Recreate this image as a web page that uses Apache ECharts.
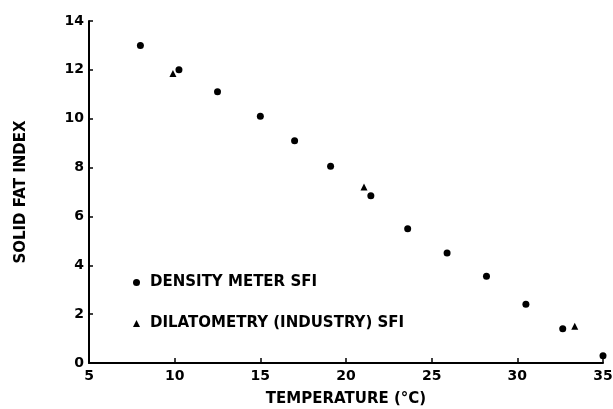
<!DOCTYPE html>
<html>
<head>
<meta charset="utf-8">
<script src="https://cdn.jsdelivr.net/npm/echarts@6/dist/echarts.min.js"></script>
<style>
  html, body { margin: 0; padding: 0; background: #fff; }
  #chart { width: 613px; height: 409px; }
</style>
</head>
<body>
<div id="chart"></div>
<script>
// density meter SFI readings [temperature, SFI]
const densityTemp = [8.0, 10.25, 12.5, 15.0, 17.0, 19.1, 21.45, 23.6, 25.9, 28.2, 30.5, 32.65, 35.0];
const densitySfi = [13.0, 12.0, 11.1, 10.1, 9.1, 8.05, 6.85, 5.5, 4.5, 3.55, 2.4, 1.4, 0.3];

// dilatometry (industry) SFI readings
const dilatTemp = [9.9, 21.05, 33.35];
const dilatSfi = [11.85, 7.2, 1.5];

const xTicks = [5, 10, 15, 20, 25, 30, 35];
const yTicks = [0, 2, 4, 6, 8, 10, 12, 14];

const font = '"DejaVu Sans", "Liberation Sans", sans-serif';
const chart = echarts.init(document.getElementById('chart'));

const tickStyle = { fontFamily: font, fontWeight: 'bold', fontSize: 14, color: '#000' };
const nameStyle = { fontFamily: font, fontWeight: 'bold', fontSize: 15, color: '#000' };

const option = {
  animation: false,
  backgroundColor: '#fff',
  textStyle: { fontFamily: font, color: '#000' },
  grid: { left: 89, right: 10, top: 21, bottom: 46, outerBoundsMode: 'none' },
  legend: {
    orient: 'vertical',
    left: 128,
    top: 270,
    itemWidth: 7,
    itemHeight: 7,
    itemGap: 26,
    textStyle: { fontFamily: font, fontWeight: 'bold', fontSize: 15, color: '#000', padding: [0, 0, 0, 5] },
    data: [
      { name: 'DENSITY METER SFI', icon: 'circle' },
      { name: 'DILATOMETRY (INDUSTRY) SFI', icon: 'triangle' }
    ]
  },
  xAxis: {
    type: 'value',
    min: xTicks[0],
    max: xTicks[xTicks.length - 1],
    interval: 5,
    name: 'TEMPERATURE (°C)',
    nameLocation: 'middle',
    nameGap: 29,
    nameTextStyle: nameStyle,
    axisLine: { lineStyle: { color: '#000', width: 2 } },
    axisTick: { show: true, inside: true, length: 5, lineStyle: { color: '#000', width: 1.5 } },
    axisLabel: Object.assign({ margin: 6 }, tickStyle),
    splitLine: { show: false }
  },
  yAxis: {
    type: 'value',
    min: yTicks[0],
    max: yTicks[yTicks.length - 1],
    interval: 2,
    name: 'SOLID FAT INDEX',
    nameLocation: 'middle',
    nameGap: 60,
    nameTextStyle: nameStyle,
    axisLine: { lineStyle: { color: '#000', width: 2 } },
    axisTick: { show: true, inside: true, length: 4, lineStyle: { color: '#000', width: 1.5 } },
    axisLabel: Object.assign({ margin: 5 }, tickStyle),
    splitLine: { show: false }
  },
  series: [
    {
      name: 'DENSITY METER SFI',
      type: 'scatter',
      symbol: 'circle',
      symbolSize: 7,
      itemStyle: { color: '#000', opacity: 1 },
      data: densityTemp.map((t, i) => [t, densitySfi[i]])
    },
    {
      name: 'DILATOMETRY (INDUSTRY) SFI',
      type: 'scatter',
      symbol: 'triangle',
      symbolSize: 7,
      itemStyle: { color: '#000', opacity: 1 },
      data: dilatTemp.map((t, i) => [t, dilatSfi[i]])
    }
  ]
};

chart.setOption(option);
</script>
</body>
</html>
